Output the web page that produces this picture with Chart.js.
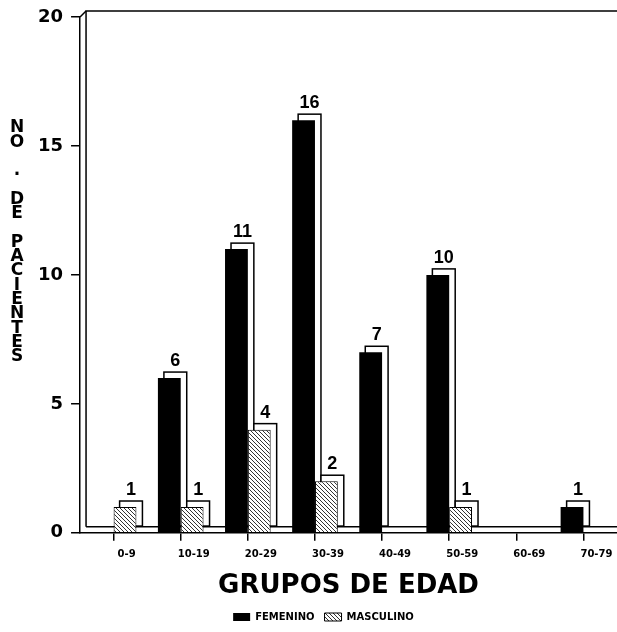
<!DOCTYPE html>
<html>
<head>
<meta charset="utf-8">
<script src="https://cdn.jsdelivr.net/npm/chart.js@4/dist/chart.umd.min.js"></script>
<style>
  body { margin: 0; background: #fff; }
  #wrap { width: 617px; height: 632px; }
</style>
</head>
<body>
<div id="wrap"><canvas id="myChart"></canvas></div>
<script>
// datos del grafico
var grupos = ['0-9', '10-19', '20-29', '30-39', '40-49', '50-59', '60-69', '70-79'];
var femenino = [0, 6, 11, 16, 7, 10, 0, 1];
var masculino = [1, 1, 4, 2, 0, 1, 0, 0];
var yTicks = [0, 5, 10, 15, 20];
var tituloY = 'NO . DE PACIENTES';
var tituloX = 'GRUPOS DE EDAD';

var depth = 6; // profundidad del efecto 3D

function hatch() {
    var c = document.createElement('canvas');
    c.width = 4; c.height = 4;
    var g = c.getContext('2d');
    g.fillStyle = '#fff';
    g.fillRect(0, 0, 4, 4);
    g.strokeStyle = '#333';
    g.lineWidth = 1;
    g.beginPath();
    g.moveTo(0, 0); g.lineTo(4, 4);
    g.moveTo(-1, 3); g.lineTo(1, 5);
    g.moveTo(3, -1); g.lineTo(5, 1);
    g.stroke();
    return g.createPattern(c, 'repeat');
}

// contornos 3D, pared del fondo y piso
var outline3d = {
    id: 'outline3d',
    beforeDatasetsDraw: function (chart) {
        var ctx = chart.ctx, a = chart.chartArea;
        var y0 = chart.scales.y.getPixelForValue(0);
        ctx.save();
        ctx.strokeStyle = '#000';
        ctx.lineWidth = 1.5;
        ctx.beginPath();
        ctx.moveTo(a.left + depth, y0 - depth);
        ctx.lineTo(a.left + depth, a.top - depth);
        ctx.lineTo(a.right, a.top - depth);
        ctx.stroke();
        ctx.beginPath();
        ctx.moveTo(a.left, a.top);
        ctx.lineTo(a.left + depth, a.top - depth);
        ctx.stroke();
        chart.data.datasets.forEach(function (ds, i) {
            chart.getDatasetMeta(i).data.forEach(function (bar, j) {
                if (!ds.data[j]) return;
                var p = bar.getProps(['x', 'y', 'base', 'width'], true);
                var l = p.x - p.width / 2 + depth;
                ctx.fillStyle = '#fff';
                ctx.fillRect(l, p.y - depth, p.width, p.base - p.y);
                ctx.strokeRect(l, p.y - depth, p.width, p.base - p.y);
            });
        });
        ctx.beginPath();
        ctx.moveTo(a.left + depth, y0 - depth);
        ctx.lineTo(a.right, y0 - depth);
        ctx.stroke();
        ctx.restore();
    },
    afterDatasetsDraw: function (chart) {
        var ctx = chart.ctx;
        ctx.save();
        ctx.fillStyle = '#000';
        ctx.font = 'bold 18px "Liberation Sans", Arial, sans-serif';
        ctx.textAlign = 'center';
        ctx.textBaseline = 'alphabetic';
        chart.data.datasets.forEach(function (ds, i) {
            chart.getDatasetMeta(i).data.forEach(function (bar, j) {
                if (!ds.data[j]) return;
                var p = bar.getProps(['x', 'y'], true);
                ctx.fillText(ds.data[j], p.x + depth, p.y - depth - 6);
            });
        });
        ctx.restore();
    },
    afterDraw: function (chart) {
        // titulo vertical con letras apiladas
        var ctx = chart.ctx, a = chart.chartArea;
        ctx.save();
        ctx.fillStyle = '#000';
        ctx.font = 'bold 17px "DejaVu Sans", sans-serif';
        ctx.textAlign = 'center';
        ctx.textBaseline = 'middle';
        var y = a.top + 111;
        for (var k = 0; k < tituloY.length; k++) {
            ctx.fillText(tituloY[k], 17, y + k * 14.3);
        }
        ctx.restore();
    }
};

function BuildChart() {
    var ctx = document.getElementById('myChart').getContext('2d');
    return new Chart(ctx, {
        type: 'bar',
        data: {
            labels: grupos,
            datasets: [{
                label: 'FEMENINO',
                data: femenino,
                backgroundColor: '#000',
                borderWidth: 0
            }, {
                label: 'MASCULINO',
                data: masculino,
                backgroundColor: hatch(),
                borderColor: '#000',
                borderWidth: 1
            }]
        },
        options: {
            responsive: true,
            maintainAspectRatio: false,
            animation: false,
            categoryPercentage: 0.68,
            barPercentage: 1.0,
            layout: { padding: { left: 30, right: 0, top: 0, bottom: 0 } },
            scales: {
                x: {
                    grid: { offset: false, drawOnChartArea: false, tickLength: 8, color: '#000', lineWidth: 1.5 },
                    border: { color: '#000', width: 1.5 },
                    ticks: {
                        color: '#000',
                        labelOffset: 13,
                        padding: 8,
                        maxRotation: 0,
                        font: { family: '"DejaVu Sans"', size: 10, weight: 'bold' }
                    },
                    title: {
                        display: true,
                        text: tituloX,
                        color: '#000',
                        padding: { top: 2, bottom: 0 },
                        font: { family: '"DejaVu Sans"', size: 26, weight: 'bold' }
                    }
                },
                y: {
                    min: 0,
                    max: 20,
                    afterBuildTicks: function (axis) {
                        axis.ticks = yTicks.map(function (v) { return { value: v }; });
                    },
                    grid: { drawOnChartArea: false, tickLength: 9, color: '#000', lineWidth: 1.5 },
                    border: { color: '#000', width: 1.5 },
                    ticks: {
                        color: '#000',
                        padding: 8,
                        font: { family: '"DejaVu Sans"', size: 18, weight: 'bold', lineHeight: 1 }
                    }
                }
            },
            plugins: {
                legend: {
                    position: 'bottom',
                    labels: {
                        color: '#000',
                        boxWidth: 17,
                        boxHeight: 8,
                        padding: 10,
                        font: { family: '"DejaVu Sans"', size: 10, weight: 'bold' }
                    }
                },
                tooltip: { enabled: false }
            }
        },
        plugins: [outline3d]
    });
}

var chart = BuildChart();
</script>
</body>
</html>
